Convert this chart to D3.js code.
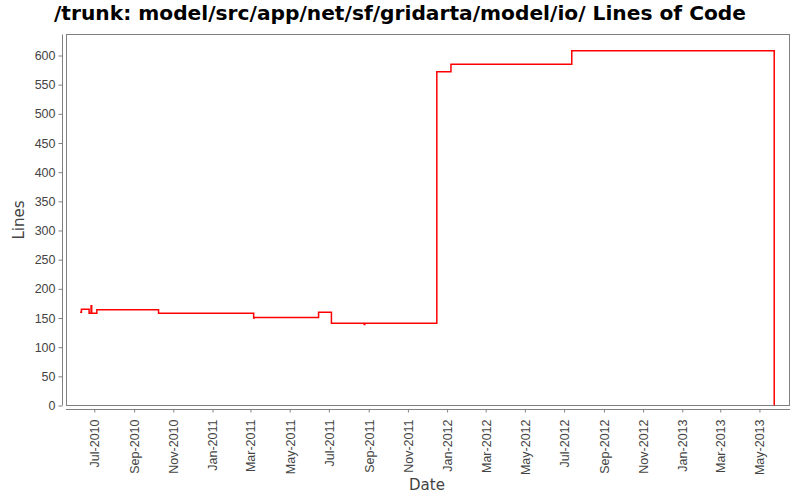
<!DOCTYPE html>
<html>
 <head>
    <title>Lines of Code</title>
    <script src="https://d3js.org/d3.v7.min.js"></script>
    <style>
      body { margin: 0; background: #fff; }
    </style>
 </head>
 <body>
    <div id="chart"></div>
    <script>
      // data (step line, value held until next date)
      var dates = [
        "2010-06-09", "2010-06-11", "2010-06-23", "2010-06-26", "2010-06-27",
        "2010-07-05", "2010-10-09", "2011-03-06", "2011-03-07", "2011-06-15",
        "2011-07-05", "2011-08-25", "2011-08-26", "2011-12-16", "2012-01-07",
        "2012-07-13", "2013-05-24"
      ];
      var lines = [
        160, 165, 158, 171, 158,
        164, 158, 150, 151, 160,
        141, 139, 141, 572, 585,
        608, 0
      ];
      var yTicks = [0, 50, 100, 150, 200, 250, 300, 350, 400, 450, 500, 550, 600];
      var xDomain = ["2010-05-18", "2013-06-16"];

      var parse = d3.timeParse("%Y-%m-%d");
      var data = dates.map(function (d, i) {
        return { date: parse(d), value: lines[i] };
      });

      var width = 800;
      var height = 500;
      var plot = { left: 66, right: 789, top: 34, bottom: 405 };

      var svg = d3.select("#chart")
        .append("svg")
        .attr("width", width)
        .attr("height", height)
        .style("font-family", "'DejaVu Sans', sans-serif");

      var x = d3.scaleTime()
        .domain(xDomain.map(parse))
        .range([plot.left, plot.right]);

      var y = d3.scaleLinear()
        .domain([0, 636])
        .range([405.5, 34.5]);

      // title
      svg.append("text")
        .attr("x", 400)
        .attr("y", 20)
        .attr("text-anchor", "middle")
        .style("font-size", "20.2px")
        .style("font-weight", "bold")
        .text("/trunk: model/src/app/net/sf/gridarta/model/io/ Lines of Code");

      // plot background and outline
      svg.append("rect")
        .attr("x", plot.left + 0.5)
        .attr("y", plot.top + 0.5)
        .attr("width", plot.right - plot.left)
        .attr("height", plot.bottom - plot.top)
        .attr("fill", "#fff")
        .attr("stroke", "#808080");

      // y axis
      var yAxis = svg.append("g")
        .attr("transform", "translate(62.5,0)")
        .call(d3.axisLeft(y).tickValues(yTicks).tickSize(4).tickPadding(3));
      yAxis.select(".domain").attr("stroke", "#808080").attr("d", "M0,34.5V405.5");
      yAxis.selectAll(".tick line").attr("stroke", "#808080");
      yAxis.selectAll(".tick text")
        .style("font-size", "12.5px")
        .attr("fill", "#444");

      // x axis
      var xAxis = svg.append("g")
        .attr("transform", "translate(0,409.5)")
        .call(d3.axisBottom(x)
          .ticks(d3.timeMonth.every(2))
          .tickFormat(d3.timeFormat("%b-%Y"))
          .tickSize(3));
      xAxis.select(".domain").attr("stroke", "#808080")
        .attr("d", "M" + plot.left + ",0H" + (plot.right + 1));
      xAxis.selectAll(".tick line").attr("stroke", "#808080");
      xAxis.selectAll(".tick text")
        .style("font-size", "12.5px")
        .attr("fill", "#444")
        .attr("transform", "rotate(-90)")
        .attr("text-anchor", "end")
        .attr("x", -10)
        .attr("y", 0)
        .attr("dy", "0.35em");

      // axis labels
      svg.append("text")
        .attr("x", 427)
        .attr("y", 490)
        .attr("text-anchor", "middle")
        .style("font-size", "15px")
        .attr("fill", "#444")
        .text("Date");

      svg.append("text")
        .attr("transform", "translate(24,220) rotate(-90)")
        .attr("text-anchor", "middle")
        .style("font-size", "15px")
        .attr("fill", "#444")
        .text("Lines");

      // step line
      var line = d3.line()
        .curve(d3.curveStepAfter)
        .x(function (d) { return x(d.date); })
        .y(function (d) { return y(d.value); });

      svg.append("path")
        .datum(data)
        .attr("fill", "none")
        .attr("stroke", "#ff0000")
        .attr("stroke-width", 1.5)
        .attr("d", line);
    </script>
 </body>
</html>
